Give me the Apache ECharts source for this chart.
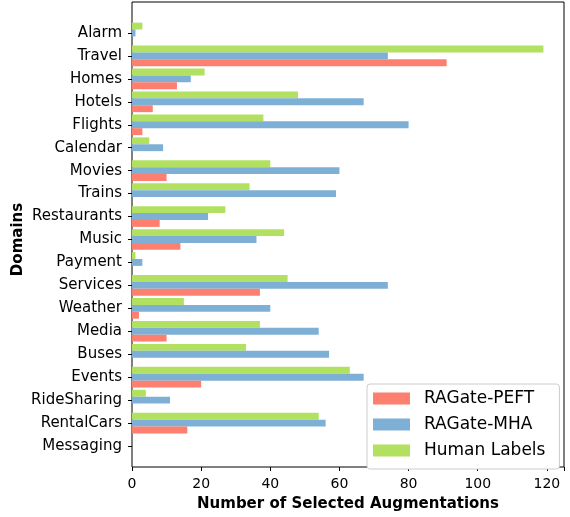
<!DOCTYPE html>
<html>
<head>
<meta charset="utf-8">
<script src="https://cdn.jsdelivr.net/npm/echarts@6/dist/echarts.min.js"></script>
<style>html,body{margin:0;padding:0;background:#fff}#c{width:570px;height:517px}</style>
</head>
<body>
<div id="c"></div>
<script>
// categories listed top to bottom as in the picture
var domains = ['Alarm','Travel','Homes','Hotels','Flights','Calendar','Movies','Trains','Restaurants','Music','Payment','Services','Weather','Media','Buses','Events','RideSharing','RentalCars','Messaging'];
var peft  = [0, 91, 13, 6, 3, 0, 10, 0, 8, 14, 0, 37, 2, 10, 0, 20, 0, 16, 0];
var mha   = [1, 74, 17, 67, 80, 9, 60, 59, 22, 36, 3, 74, 40, 54, 57, 67, 11, 56, 0];
var human = [3, 119, 21, 48, 38, 5, 40, 34, 27, 44, 1, 45, 15, 37, 33, 63, 4, 54, 0];
var xTicks = [0, 20, 40, 60, 80, 100, 120];
var xMax = 124.95;

var FONT = 'DejaVu Sans';
var chart = echarts.init(document.getElementById('c'));
chart.setOption({
  animation: false,
  textStyle: {fontFamily: FONT},
  grid: [
    {left: 132, right: 6, top: 2, bottom: 40, show: true, borderColor: '#000', borderWidth: 1, backgroundColor: 'transparent'},
    {left: 132, right: 6, top: 21.5, bottom: 59.5}
  ],
  xAxis: [
    {gridIndex: 0, type: 'value', min: 0, max: xMax, interval: 20,
     axisLine: {show: false}, splitLine: {show: false},
     axisTick: {show: true, length: 4, lineStyle: {color: '#000'}},
     axisLabel: {fontSize: 14, color: '#000', margin: 10, fontFamily: FONT,
       formatter: function (v) { return xTicks.indexOf(v) >= 0 ? String(v) : ''; }},
     name: 'Number of Selected Augmentations', nameLocation: 'middle', nameGap: 30, nameMoveOverlap: false,
     nameTextStyle: {fontSize: 15, fontWeight: 'bold', color: '#000', fontFamily: FONT}},
    {gridIndex: 1, type: 'value', min: 0, max: xMax, show: false}
  ],
  yAxis: [
    {gridIndex: 0, type: 'value', show: false},
    {gridIndex: 1, type: 'category', data: domains, inverse: true,
     axisLine: {show: false},
     axisTick: {show: true, alignWithLabel: true, length: 4, lineStyle: {color: '#000'}},
     axisLabel: {fontSize: 15, color: '#000', margin: 10, fontFamily: FONT},
     name: 'Domains', nameLocation: 'middle', nameGap: 106, nameMoveOverlap: false,
     nameTextStyle: {fontSize: 15, fontWeight: 'bold', color: '#000', fontFamily: FONT}}
  ],
  legend: {
    data: ['RAGate-PEFT', 'RAGate-MHA', 'Human Labels'],
    orient: 'vertical', left: 367, top: 384,
    itemWidth: 37, itemHeight: 12, itemGap: 9,
    icon: 'rect',
    padding: [6, 14, 10, 6],
    backgroundColor: '#fff', borderColor: '#cccccc', borderWidth: 1, borderRadius: 3,
    textStyle: {fontSize: 17, lineHeight: 17, color: '#000', fontFamily: FONT, padding: [0, 0, 0, 9]}
  },
  series: [
    {name: 'Human Labels', type: 'bar', xAxisIndex: 1, yAxisIndex: 1, data: human, barWidth: '30%', barGap: '0%', itemStyle: {color: '#b2e061'}},
    {name: 'RAGate-MHA', type: 'bar', xAxisIndex: 1, yAxisIndex: 1, data: mha, barWidth: '30%', barGap: '0%', itemStyle: {color: '#7eb0d5'}},
    {name: 'RAGate-PEFT', type: 'bar', xAxisIndex: 1, yAxisIndex: 1, data: peft, barWidth: '30%', barGap: '0%', itemStyle: {color: '#fd7f6f'}}
  ]
});
</script>
</body>
</html>
